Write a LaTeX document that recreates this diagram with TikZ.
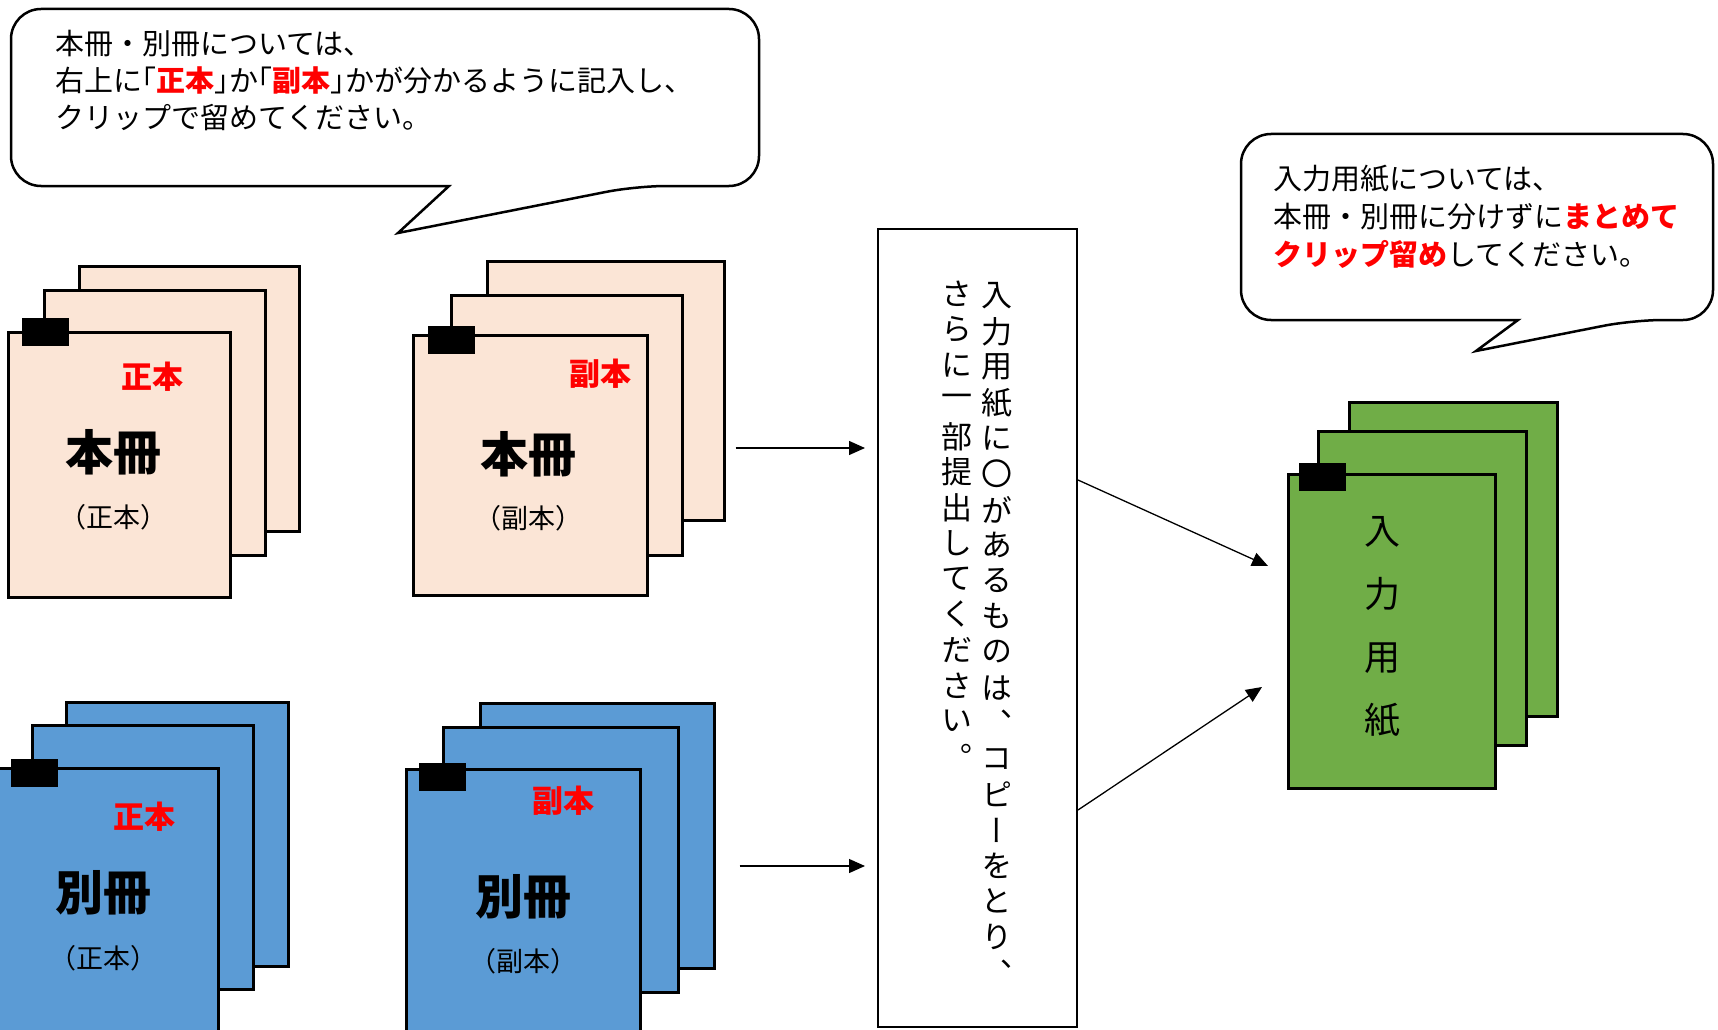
\documentclass[tikz,border=0pt]{standalone}
\usepackage{fontspec}
\setmainfont{Noto Sans CJK JP}
\newfontfamily\jpv[RawFeature=+vert]{Noto Sans CJK JP}
\usetikzlibrary{arrows.meta,calc}

\definecolor{honfill}{HTML}{FBE5D6}
\definecolor{betsufill}{HTML}{5B9BD5}
\definecolor{nyufill}{HTML}{70AD47}

% 半角幅の括弧
\newcommand{\kakko}[1]{\kern-.5em（#1）\kern-.5em}
\newcommand{\kagi}[1]{\kern-.5em「#1」\kern-.5em}
\newcommand{\aka}[1]{{\color{red}\bfseries #1}}

\tikzset{
  sheet/.style={draw, line width=2.5pt, anchor=north west, inner sep=0pt},
  clipbox/.style={fill=black, anchor=north west, inner sep=0pt, minimum width=47pt, minimum height=28pt},
  arrow/.style={-{Triangle[length=16pt,width=14pt]}, line width=1.3pt},
  callout/.style={line width=2.5pt},
  bubbletext/.style={anchor=north west, align=left, inner sep=0pt},
  bigtext/.style={font=\fontsize{48}{52}\selectfont\bfseries},
  redtext/.style={text=red, font=\fontsize{31}{34}\selectfont\bfseries},
  subtext/.style={font=\fontsize{27}{30}\selectfont},
  vtext/.style={font=\jpv\fontsize{31}{33}\selectfont, inner sep=0pt},
}

\begin{document}
\begin{tikzpicture}[x=1pt, y=-1pt]
  \useasboundingbox (0,0) rectangle (1718,1030);

  % 吹き出し（左上）
  \draw[callout] (449,186) [rounded corners=30pt] -- (11,186) -- (11,9) -- (759,9)
    -- (759,186) -- (636,186) [sharp corners] -- (398,233) -- cycle;
  \node[bubbletext, font=\fontsize{29}{37}\selectfont] (note1) at (55,30)
    {本冊・別冊については、\\右上に\kagi{\aka{正本}}か\kagi{\aka{副本}}かが分かるように記入し、\\クリップで留めてください。};

  % 吹き出し（右上）
  \draw[callout] (1518,320) [rounded corners=30pt] -- (1241,320) -- (1241,134) -- (1713,134)
    -- (1713,320) -- (1633,320) [sharp corners] -- (1476,351) -- cycle;
  \node[bubbletext, font=\fontsize{29}{38}\selectfont] (note2) at (1273,165)
    {入力用紙については、\\本冊・別冊に分けずに\aka{まとめて}\\\aka{クリップ留め}してください。};

  % 本冊（正本）
  \node[sheet, fill=honfill, minimum width=220pt, minimum height=265pt] (hon1c) at (78,265) {};
  \node[sheet, fill=honfill, minimum width=221pt, minimum height=265pt] (hon1b) at (43,289) {};
  \node[sheet, fill=honfill, minimum width=222pt, minimum height=265pt] (hon1a) at (7,331) {};
  \node[clipbox] (hon1clip) at (22,318) {};
  \node[redtext] (hon1red) at (152,377) {正本};
  \node[bigtext] (hon1title) at (113,452) {本冊};
  \node[subtext] (hon1sub) at (113,517) {\kakko{正本}};

  % 本冊（副本）
  \node[sheet, fill=honfill, minimum width=237pt, minimum height=259pt] (hon2c) at (486,260) {};
  \node[sheet, fill=honfill, minimum width=231pt, minimum height=260pt] (hon2b) at (450,294) {};
  \node[sheet, fill=honfill, minimum width=234pt, minimum height=260pt] (hon2a) at (412,334) {};
  \node[clipbox] (hon2clip) at (428,326) {};
  \node[redtext] (hon2red) at (600,374) {副本};
  \node[bigtext] (hon2title) at (528,454) {本冊};
  \node[subtext] (hon2sub) at (528,518) {\kakko{副本}};

  % 別冊（正本）
  \node[sheet, fill=betsufill, minimum width=222pt, minimum height=264pt] (betsu1c) at (65,701) {};
  \node[sheet, fill=betsufill, minimum width=221pt, minimum height=264pt] (betsu1b) at (31,724) {};
  \node[sheet, fill=betsufill, minimum width=222pt, minimum height=266pt] (betsu1a) at (-5,767) {};
  \node[clipbox] (betsu1clip) at (11,759) {};
  \node[redtext] (betsu1red) at (144,817) {正本};
  \node[bigtext] (betsu1title) at (103,893) {別冊};
  \node[subtext] (betsu1sub) at (103,958) {\kakko{正本}};

  % 別冊（副本）
  \node[sheet, fill=betsufill, minimum width=234pt, minimum height=265pt] (betsu2c) at (479,702) {};
  \node[sheet, fill=betsufill, minimum width=235pt, minimum height=265pt] (betsu2b) at (442,726) {};
  \node[sheet, fill=betsufill, minimum width=234pt, minimum height=266pt] (betsu2a) at (405,768) {};
  \node[clipbox] (betsu2clip) at (419,763) {};
  \node[redtext] (betsu2red) at (563,801) {副本};
  \node[bigtext] (betsu2title) at (523,897) {別冊};
  \node[subtext] (betsu2sub) at (523,961) {\kakko{副本}};

  % 中央の縦書き
  \node[draw, line width=2pt, anchor=north west, minimum width=199pt, minimum height=798pt] (box) at (877,228) {};
  \foreach \c [count=\i from 0] in {入,力,用,紙,に,〇,が,あ,る,も,の,は,、,コ,ピ,ー,を,と,り,、}
    \node[vtext] (colR\i) at (997,296+35.6*\i) {\c};
  \foreach \c [count=\i from 0] in {さ,ら,に,一,部,提,出,し,て,く,だ,さ,い,。}
    \node[vtext] (colL\i) at (957,294+35.6*\i) {\c};

  % 入力用紙
  \node[sheet, fill=nyufill, minimum width=208pt, minimum height=314pt] (nyu1c) at (1348,401) {};
  \node[sheet, fill=nyufill, minimum width=208pt, minimum height=314pt] (nyu1b) at (1317,430) {};
  \node[sheet, fill=nyufill, minimum width=207pt, minimum height=314pt] (nyu1a) at (1287,473) {};
  \node[clipbox] (nyu1clip) at (1299,463) {};
  \node[align=center, font=\fontsize{36}{63}\selectfont] (nyu1title) at (1382,627) {入\\力\\用\\紙};

  % 矢印
  \draw[arrow, shorten <=10pt, shorten >=12pt] (hon2c.east |- 0,448) -- (box.west |- 0,448);
  \draw[arrow, shorten <=24pt, shorten >=12pt] (betsu2c.east |- 0,866) -- (box.west |- 0,866);
  \draw[arrow] (box.east |- 0,480) -- ($(nyu1a.west |- 0,566)+(-19,0)$);
  \draw[arrow] (box.east |- 0,810) -- ($(nyu1a.west |- 0,687)+(-25,0)$);
\end{tikzpicture}
\end{document}
